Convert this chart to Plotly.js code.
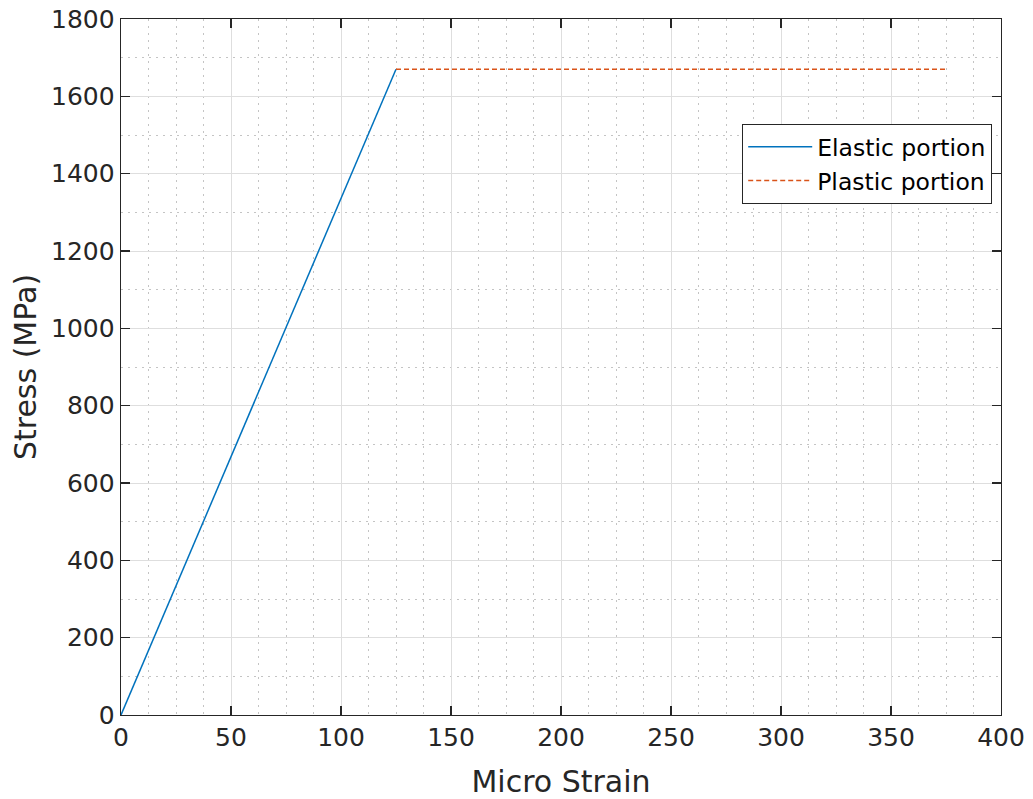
<!DOCTYPE html>
<html><head><meta charset="utf-8">
<script src="https://cdn.plot.ly/plotly-3.0.1.min.js"></script>
<style>body{margin:0;background:#fff}#g{width:1033px;height:799px}</style>
</head><body><div id="g"></div>
<script>
const elasticStrain = [0, 125];
const elasticStress = [0, 1670];
const plasticStrain = [125, 375];
const plasticStress = [1670, 1670];
const xTicks = [0, 50, 100, 150, 200, 250, 300, 350, 400];
const yTicks = [0, 200, 400, 600, 800, 1000, 1200, 1400, 1600, 1800];

const font = '"DejaVu Sans", Verdana, sans-serif';
const axBase = {
  showline: true, mirror: 'ticks', linecolor: '#262626', linewidth: 1.3,
  ticks: 'inside', ticklen: 9, tickwidth: 1.3, tickcolor: '#262626',
  showgrid: true, gridcolor: '#dedede', gridwidth: 1,
  zeroline: false, tickfont: {family: font, size: 25, color: '#262626'},
};
const data = [
  {x: elasticStrain, y: elasticStress, mode: 'lines', name: 'Elastic portion',
   line: {color: '#0072BD', width: 1.5}},
  {x: plasticStrain, y: plasticStress, mode: 'lines', name: 'Plastic portion',
   line: {color: '#D95319', width: 1.5, dash: '5px,3px'}}
];
const layout = {
  width: 1033, height: 799,
  margin: {l: 121, r: 32, t: 19, b: 84},
  paper_bgcolor: '#fff', plot_bgcolor: '#fff',
  showlegend: true,
  legend: {x: 0.99, y: 0.849, xanchor: 'right', yanchor: 'top',
    bordercolor: '#262626', borderwidth: 1, bgcolor: '#fff', itemwidth: 64,
    font: {family: font, size: 23.5, color: '#000'}, tracegroupgap: 0},
  xaxis: Object.assign({}, axBase, {
    range: [0, 400], tickvals: xTicks, ticktext: xTicks.map(String),
    minor: {dtick: 12.5, showgrid: true, griddash: '2px,5px', gridcolor: '#c4c4c4', gridwidth: 1, ticks: ''},
    title: {text: 'Micro Strain', font: {family: font, size: 30, color: '#262626'}, standoff: 20}
  }),
  yaxis: Object.assign({}, axBase, {
    range: [0, 1800], tickvals: yTicks, ticktext: yTicks.map(String),
    minor: {dtick: 100, showgrid: true, griddash: '2px,5px', gridcolor: '#c4c4c4', gridwidth: 1, ticks: ''},
    title: {text: 'Stress (MPa)', font: {family: font, size: 30, color: '#262626'}, standoff: 5}
  })
};
Plotly.newPlot('g', data, layout, {displayModeBar: false, staticPlot: true});
</script></body></html>
